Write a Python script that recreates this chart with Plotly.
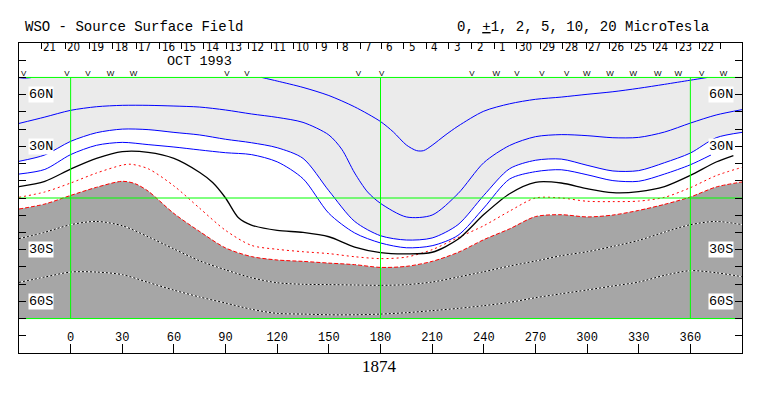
import plotly.graph_objects as go

# ---------------- data ----------------
LON_RANGE = [-30, 390]
LAT_RANGE = [-90, 90]
LAT_EDGE = 70

GRID_LAT = [70, 0, -70]
GRID_LON = [0, 180, 360]

LON_TICKS = [0, 30, 60, 90, 120, 150, 180, 210, 240, 270, 300, 330, 360]
LAT_TICKS = [-80, -70, -60, -50, -40, -30, -20, -10, 0, 10, 20, 30, 40, 50, 60, 70, 80]
LAT_LABEL_VALS = [60, 30, -30, -60]
LAT_LABEL_TXT = ["60N", "30N", "30S", "60S"]

DAY_TICK_LON = [-17.0, -3.1, 10.9, 24.6, 38.1, 51.7, 64.3, 77.2, 90.8, 103.4, 116.5,
                129.5, 142.7, 154.9, 168.2, 180.4, 193.4, 206.5, 219.5, 233.1, 246.2,
                259.2, 272.7, 285.9, 299.4, 313.0, 326.0, 338.5, 352.1, 365.2, 377.3]
DAY_LABELS = [21, 20, 19, 18, 17, 16, 15, 14, 13, 12, 11, 10, 9, 8, 7, 6, 5, 4, 3, 2, 1,
              30, 29, 28, 27, 26, 25, 24, 23, 22]

MARK_LON = [-27.3, -2.1, 10.1, 23.1, 36.6, 90.8, 102.4, 167.2, 180.7, 233.1, 247.2,
            259.2, 273.7, 288.2, 299.8, 313.4, 326.9, 341.1, 353.0, 366.6, 379.2]
MARK_TXT = ["V", "V", "V", "W", "W", "V", "V", "V", "V", "V", "W",
            "V", "V", "V", "W", "W", "W", "W", "W", "V", "W"]

# +10 microTesla contour (blue)
P10_LON = [111, 120, 135, 150, 165, 180, 187.5, 195, 201, 205, 210, 217.5, 225, 240, 255,
           270, 285, 300, 315, 330, 345, 360, 370]
P10_LAT = [70.0, 67.9, 64.2, 59.5, 52.9, 44.4, 38.3, 30.8, 27.5, 27.5, 30.6, 36.4, 41.7,
           50.4, 54.7, 57.3, 58.6, 60.2, 61.7, 63.7, 66.0, 68.4, 70.0]
P10B_LON = [-30, -27, -23]
P10B_LAT = [69.9, 69.6, 69.9]

# +5
P5_LON = [-30, -15, 0, 15, 30, 45, 60, 75, 90, 105, 120, 135, 150, 157.5, 165, 172.5, 180,
          195, 210, 225, 240, 255, 270, 285, 300, 315, 330, 345, 360, 375, 390]
P5_LAT = [43.3, 47.0, 50.9, 53.0, 53.8, 53.8, 53.4, 52.8, 51.1, 48.8, 46.8, 43.9, 36.6, 28.3,
          14.5, 3.5, -3.1, -11.0, -9.9, 2.5, 20.5, 30.5, 35.6, 36.8, 36.2, 35.0, 35.2, 38.3,
          43.5, 48.2, 51.3]

# +2 (edge of the light-grey positive region)
P2_LON = [-30, -15, 0, 15, 30, 45, 60, 75, 90, 105, 120, 135, 150, 165, 180, 195, 210, 225,
          240, 255, 270, 285, 300, 315, 330, 345, 360, 375, 390]
P2_LAT = [21.3, 25.0, 32.9, 37.9, 40.0, 39.7, 38.1, 36.6, 34.1, 32.1, 29.2, 23.0, 4.2, -13.6,
          -21.9, -24.4, -23.2, -15.5, 1.5, 17.0, 21.9, 22.6, 19.0, 15.7, 15.9, 20.5, 26.1,
          35.0, 38.1]

# +1
P1_LON = [-30, -15, 0, 15, 30, 45, 60, 75, 90, 105, 120, 135, 150, 165, 180, 195, 210, 225,
          240, 255, 270, 285, 300, 315, 330, 345, 360, 372]
P1_LAT = [13.9, 16.6, 25.2, 30.6, 32.3, 31.0, 29.6, 27.9, 26.3, 25.2, 21.0, 11.2, -8.9, -20.3,
          -26.1, -28.9, -27.7, -21.7, -5.8, 11.0, 15.3, 16.4, 13.5, 10.1, 9.7, 13.9, 19.3, 25.0]

# 0 (neutral line, black)
P0_LON = [-30, -15, 0, 15, 30, 45, 60, 75, 82.5, 90, 97.5, 105, 120, 135, 150, 165, 180, 195,
          210, 225, 240, 255, 270, 285, 300, 315, 330, 345, 360, 375, 385]
P0_LAT = [6.6, 9.7, 16.8, 23.0, 26.9, 26.5, 23.0, 14.8, 9.0, 0.0, -11.5, -15.7, -18.8, -20.0,
          -22.5, -28.5, -31.7, -32.4, -31.5, -24.0, -9.6, 2.5, 9.1, 8.7, 5.4, 3.1, 3.7, 6.6,
          13.1, 20.9, 24.6]

# -1 (red dotted)
M1_LON = [-30, -15, 0, 15, 30, 35, 45, 60, 75, 90, 105, 120, 135, 150, 165, 180, 195, 210,
          225, 240, 255, 270, 285, 300, 315, 330, 345, 360, 375, 390]
M1_LAT = [0.4, 3.5, 8.7, 14.5, 19.1, 19.6, 17.0, 7.0, -6.0, -18.8, -27.5, -29.8, -31.2, -32.3,
          -34.1, -35.2, -34.3, -30.0, -23.0, -16.1, -7.6, 0.0, 0.0, -1.9, -2.1, -1.8, 0.4, 6.0,
          13.0, 17.8]

# -2 (edge of the dark-grey negative region)
M2_LON = [-30, -15, 0, 15, 30, 37.5, 45, 60, 75, 90, 105, 120, 135, 150, 165, 180, 195, 210,
          225, 240, 255, 270, 285, 300, 315, 330, 345, 360, 375, 390]
M2_LAT = [-6.4, -3.5, 1.5, 6.2, 9.7, 8.3, 4.0, -9.0, -19.5, -29.0, -34.0, -36.0, -36.8, -37.8,
          -38.7, -40.3, -39.7, -36.8, -31.6, -24.2, -17.9, -10.8, -9.7, -11.0, -9.9, -7.2,
          -3.7, 0.6, 6.4, 9.3]

# -5
M5_LON = [-30, -15, 0, 15, 30, 45, 60, 75, 90, 105, 120, 135, 150, 165, 180, 195, 210, 225,
          240, 255, 270, 285, 300, 315, 330, 345, 360, 375, 390]
M5_LAT = [-23.6, -19.9, -15.5, -13.6, -16.1, -22.5, -29.6, -36.5, -41.7, -46.3, -49.2, -50.1,
          -50.3, -50.5, -50.7, -50.3, -48.8, -45.9, -42.8, -39.5, -36.6, -33.5, -31.2, -28.1,
          -24.6, -19.8, -15.5, -13.6, -15.5]

# -10
M10_LON = [-30, -15, 0, 15, 30, 45, 60, 75, 90, 105, 120, 135, 150, 165, 180, 195, 210, 225,
           240, 255, 270, 285, 300, 315, 330, 345, 360, 375, 390]
M10_LAT = [-49.0, -45.9, -43.0, -43.0, -44.5, -49.0, -53.5, -57.5, -61.0, -64.6, -67.0, -67.4,
           -67.8, -67.8, -67.4, -66.6, -65.4, -64.1, -62.5, -60.6, -57.9, -55.6, -53.4, -51.1,
           -48.8, -44.9, -42.2, -43.4, -45.7]

B0_LON = [-31]
B0_LAT = [5.5]

TITLE_LEFT = "WSO - Source Surface Field"
TITLE_RIGHT = "0, <u>+</u>1, 2, 5, 10, 20 MicroTesla"
ROTATION = "1874"
MONTH = "OCT 1993"

# ---------------- styles ----------------
LIGHT = "#ebebeb"
DARK = "#a6a6a6"
BLUE = "#0000ff"
RED = "#ff0000"
GREEN = "#00ff00"
MONO = "Liberation Mono, DejaVu Sans Mono, monospace"
NARROW = "Liberation Sans Narrow, DejaVu Sans Condensed, Liberation Sans, sans-serif"
SPL = dict(shape="spline", smoothing=0.8)

fig = go.Figure()


def line(xs, ys, color, width=1, dash="solid"):
    fig.add_trace(go.Scatter(
        x=xs, y=ys, mode="lines", hoverinfo="skip",
        line=dict(color=color, width=width, dash=dash, **SPL)))


# light-grey region (above +2)
fig.add_trace(go.Scatter(x=LON_RANGE, y=[LAT_EDGE, LAT_EDGE], mode="lines",
                         line=dict(color="rgba(0,0,0,0)", width=0), hoverinfo="skip"))
fig.add_trace(go.Scatter(x=P2_LON, y=P2_LAT, mode="lines", hoverinfo="skip",
                         line=dict(color="rgba(0,0,0,0)", width=0, **SPL),
                         fill="tonexty", fillcolor=LIGHT))
# dark-grey region (below -2)
fig.add_trace(go.Scatter(x=LON_RANGE, y=[-LAT_EDGE, -LAT_EDGE], mode="lines",
                         line=dict(color="rgba(0,0,0,0)", width=0), hoverinfo="skip"))
fig.add_trace(go.Scatter(x=M2_LON, y=M2_LAT, mode="lines", hoverinfo="skip",
                         line=dict(color="rgba(0,0,0,0)", width=0, **SPL),
                         fill="tonexty", fillcolor=DARK))

# negative contours
for xs, ys in [(M10_LON, M10_LAT), (M5_LON, M5_LAT)]:
    line(xs, ys, "white", 1)
    line(xs, ys, "black", 1, dash="2px,2px")
line(M2_LON, M2_LAT, RED, 1, dash="4px,2px")
line(M1_LON, M1_LAT, RED, 1, dash="2px,3px")
# neutral line
line(P0_LON, P0_LAT, "black", 1.3)
# positive contours
for xs, ys in [(P1_LON, P1_LAT), (P2_LON, P2_LAT), (P5_LON, P5_LAT),
               (P10_LON, P10_LAT), (P10B_LON, P10B_LAT)]:
    line(xs, ys, BLUE, 1)

# green reference grid
gx, gy = [], []
for la in GRID_LAT:
    gx += [LON_RANGE[0], LON_RANGE[1], None]
    gy += [la, la, None]
for lo in GRID_LON:
    gx += [lo, lo, None]
    gy += [-LAT_EDGE, LAT_EDGE, None]
fig.add_trace(go.Scatter(x=gx, y=gy, mode="lines", line=dict(color=GREEN, width=1),
                         hoverinfo="skip"))

# earth latitude marker
fig.add_trace(go.Scatter(x=B0_LON, y=B0_LAT, mode="text", text=[">"], cliponaxis=False,
                         textfont=dict(color=GREEN, size=8, family=MONO), hoverinfo="skip"))

# longitude labels
fig.add_trace(go.Scatter(x=LON_TICKS, y=[-81.0] * len(LON_TICKS), mode="text",
                         text=[str(v) for v in LON_TICKS],
                         textfont=dict(family=MONO, size=12, color="black"),
                         hoverinfo="skip"))

# observation markers (top strip) on the top axis
fig.add_trace(go.Scatter(x=MARK_LON, y=[72.0] * len(MARK_LON), mode="text", text=MARK_TXT,
                         xaxis="x2", yaxis="y", cliponaxis=False,
                         textfont=dict(family="Liberation Sans, sans-serif", size=8,
                                       color="black"),
                         hoverinfo="skip"))

ann = []
for la, t in zip(LAT_LABEL_VALS, LAT_LABEL_TXT):
    ann.append(dict(x=-25.0, y=la, xref="x", yref="y", text=t, showarrow=False,
                    xanchor="left", yanchor="middle", bgcolor="white", borderpad=0,
                    font=dict(family=MONO, size=13.5, color="black")))
    ann.append(dict(x=385.6, y=la, xref="x", yref="y", text=t, showarrow=False,
                    xanchor="right", yanchor="middle", bgcolor="white", borderpad=0,
                    font=dict(family=MONO, size=13.5, color="black")))
for lo, d in zip(DAY_TICK_LON, DAY_LABELS):
    ann.append(dict(x=lo, y=87.4, xref="x", yref="y", text=str(d), showarrow=False,
                    xanchor="center", yanchor="middle", xshift=8.5,
                    font=dict(family=NARROW, size=11.5, color="black")))
ann.append(dict(x=74.7, y=79.4, xref="x", yref="y", text=MONTH, showarrow=False,
                xanchor="center", yanchor="middle",
                font=dict(family=MONO, size=13.5, color="black")))
ann.append(dict(x=0.006, y=1.0516, xref="paper", yref="paper", text=TITLE_LEFT,
                showarrow=False, xanchor="left", yanchor="middle",
                font=dict(family=MONO, size=14, color="black")))
ann.append(dict(x=0.957, y=1.0516, xref="paper", yref="paper", text=TITLE_RIGHT,
                showarrow=False, xanchor="right", yanchor="middle",
                font=dict(family=MONO, size=14, color="black")))
ann.append(dict(x=0.4993, y=-0.045, xref="paper", yref="paper", text=ROTATION,
                showarrow=False, xanchor="center", yanchor="middle",
                font=dict(family="Liberation Serif, serif", size=17, color="black")))

# the page body has an 8px margin, so the figure is 16px smaller than the window
fig.update_layout(
    width=747, height=380, margin=dict(l=11, r=13, t=35, b=35),
    paper_bgcolor="white", plot_bgcolor="white", showlegend=False,
    annotations=ann,
    xaxis=dict(range=LON_RANGE, showgrid=False, zeroline=False, showline=True,
               linecolor="black", linewidth=1, mirror=True, ticks="inside",
               tickvals=LON_TICKS, ticklen=9, tickcolor="black", tickwidth=1,
               showticklabels=False, fixedrange=True),
    xaxis2=dict(range=LON_RANGE, overlaying="x", side="top", showgrid=False,
                zeroline=False, showline=False, ticks="inside", tickvals=DAY_TICK_LON,
                ticklen=6, tickcolor="black", tickwidth=1, showticklabels=False,
                fixedrange=True),
    yaxis=dict(range=LAT_RANGE, showgrid=False, zeroline=False, showline=True,
               linecolor="black", linewidth=1, mirror="ticks", ticks="inside",
               tickvals=LAT_TICKS, ticklen=7, tickcolor="black", tickwidth=1,
               showticklabels=False, fixedrange=True),
)

fig.write_html("out.html")
